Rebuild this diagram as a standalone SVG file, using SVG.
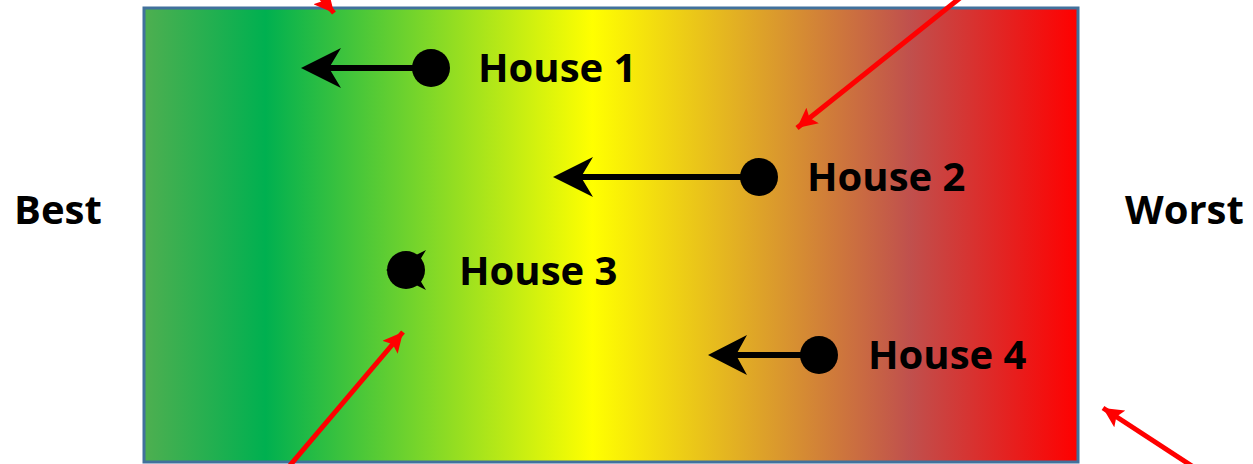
<svg xmlns="http://www.w3.org/2000/svg" width="1253" height="464" viewBox="0 0 1253 464">
<defs>
<linearGradient id="grad" x1="0" y1="0" x2="1" y2="0">
<stop offset="0" stop-color="#4EAF50"/>
<stop offset="0.13" stop-color="#00B050"/>
<stop offset="0.48" stop-color="#FFFF00"/>
<stop offset="0.82" stop-color="#C0504D"/>
<stop offset="1" stop-color="#FF0000"/>
</linearGradient>
<marker id="red" viewBox="0 0 10 10" refX="10" refY="5" markerWidth="4" markerHeight="4" markerUnits="strokeWidth" orient="auto">
<path d="M0,0 L10,5 L0,10 L2,5 Z" fill="#FF0000"/>
</marker>
</defs>
<style>
.lbl{font-family:"Open Sans","DejaVu Sans",sans-serif;font-weight:bold;font-size:40px;fill:#000}
.shaft{stroke:#000;stroke-width:6;fill:none}
.head{fill:#000}
.dot{fill:#000}
.redl{stroke:#FF0000;stroke-width:5;fill:none}
</style>
<rect id="panel" x="144" y="8" width="934" height="454" fill="url(#grad)" stroke="#41719C" stroke-width="3"/>
<g id="best"><text class="lbl" x="14" y="224">Best</text></g>
<g id="worst"><text class="lbl" x="1125" y="224">Worst</text></g>
<g id="house1">
<line class="shaft" x1="431" y1="68" x2="325" y2="68"/>
<path class="head" d="M301,68 L341,48 L329,68 L341,88 Z"/>
<circle class="dot" cx="431" cy="68" r="19"/>
<text class="lbl" x="478" y="82">House 1</text>
</g>
<g id="house2">
<line class="shaft" x1="759" y1="177" x2="578" y2="177"/>
<path class="head" d="M553,177 L593,157 L581,177 L593,197 Z"/>
<circle class="dot" cx="759" cy="177" r="19"/>
<text class="lbl" x="807" y="191">House 2</text>
</g>
<g id="house3">
<path class="head" d="M386,270 L426,250 L414,270 L426,290 Z"/>
<circle class="dot" cx="406" cy="270" r="19"/>
<text class="lbl" x="459" y="285">House 3</text>
</g>
<g id="house4">
<line class="shaft" x1="819" y1="355" x2="733" y2="355"/>
<path class="head" d="M708,355 L747,335 L736,355 L747,375 Z"/>
<circle class="dot" cx="819" cy="355" r="19"/>
<text class="lbl" x="868" y="369">House 4</text>
</g>
<g id="connectors">
<line class="redl" x1="306" y1="-20" x2="334" y2="13" marker-end="url(#red)"/>
<line class="redl" x1="965" y1="-6" x2="797" y2="128" marker-end="url(#red)"/>
<line class="redl" x1="286" y1="470" x2="403" y2="332" marker-end="url(#red)"/>
<line class="redl" x1="1198" y1="470" x2="1103" y2="408" marker-end="url(#red)"/>
</g>
</svg>
